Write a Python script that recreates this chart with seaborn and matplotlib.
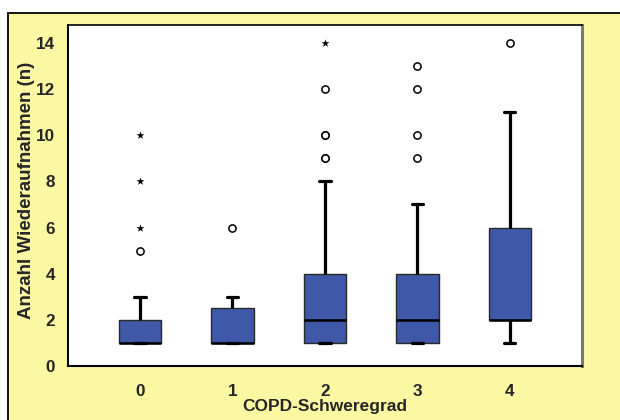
import numpy as np
import pandas as pd
import matplotlib
matplotlib.use("Agg")
import matplotlib.pyplot as plt
import seaborn as sns
from matplotlib.patches import Rectangle

# ---- data (number of readmissions per COPD grade) ----
grades = ["0", "1", "2", "3", "4"]
grad0 = [1, 1, 1, 1, 1, 1, 1, 1, 1, 1, 1, 2, 2, 2, 2, 2, 3, 5, 6, 8, 10]
grad1 = [1, 1, 1, 1, 1, 1, 1, 1, 1, 1, 2, 2, 2, 2, 3, 3, 3, 3, 6]
grad2 = [1, 1, 1, 1, 1, 1, 1, 1, 2, 2, 2, 2, 2, 2, 2, 3, 3, 3, 3, 4, 4, 4,
         8, 9, 9, 10, 10, 12, 14]
grad3 = [1, 1, 1, 1, 1, 1, 2, 2, 2, 2, 2, 3, 3, 3, 4, 4, 7, 9, 10, 12, 13]
grad4 = [1, 2, 2, 2, 2, 2, 2, 2, 2, 2, 2, 3, 4, 5, 6, 6, 7, 8, 9, 11, 14]
y_ticks = [0, 2, 4, 6, 8, 10, 12, 14]
x_title = "COPD-Schweregrad"
y_title = "Anzahl Wiederaufnahmen (n)"

groups = [grad0, grad1, grad2, grad3, grad4]
rows = []
for g, vals in zip(grades, groups):
    for v in vals:
        rows.append((g, v))
df = pd.DataFrame(rows, columns=["grade", "count"])

# classify outliers (SPSS style: >1.5 IQR circle, >3 IQR star)
circ, star = [], []
for g, vals in zip(grades, groups):
    q1, q3 = np.percentile(vals, [25, 75])
    iqr = q3 - q1
    for v in vals:
        if v > q3 + 3 * iqr or v < q1 - 3 * iqr:
            star.append((g, v))
        elif v > q3 + 1.5 * iqr or v < q1 - 1.5 * iqr:
            circ.append((g, v))
circ_df = pd.DataFrame(circ, columns=["grade", "count"])
star_df = pd.DataFrame(star, columns=["grade", "count"])

# ---- style ----
sns.set_style("white")
plt.rcParams["font.family"] = ["Liberation Sans", "DejaVu Sans"]
plt.rcParams["font.weight"] = "bold"

fig = plt.figure(figsize=(6.2, 4.2), dpi=100, facecolor="white")
W, H = 620, 420
panel = Rectangle((8 / W, -0.2), 1.3, (1 - 13 / H) + 0.2, transform=fig.transFigure,
                  facecolor="#FAF8A3", edgecolor="black", linewidth=1.3, zorder=-10)
fig.patches.append(panel)

ax = fig.add_axes([68 / W, 1 - 366 / H, (582 - 68) / W, (366 - 25) / H])
ax.set_zorder(5)
ax.set_facecolor("white")

box_color = "#3F58A8"
sns.boxplot(data=df, x="grade", y="count", order=grades, color=box_color,
            saturation=1, width=0.46, showfliers=False, ax=ax,
            boxprops=dict(edgecolor="#2a2a2a", linewidth=1.0),
            whiskerprops=dict(color="black", linewidth=2.3),
            capprops=dict(color="black", linewidth=2.3),
            medianprops=dict(color="black", linewidth=1.8),
            capwidths=0.12)

sns.stripplot(data=circ_df, x="grade", y="count", order=grades, jitter=False,
              marker="o", size=5.2, color="white", edgecolor="black",
              linewidth=1.1, ax=ax, zorder=5)
sns.stripplot(data=star_df, x="grade", y="count", order=grades, jitter=False,
              marker="*", size=6, color="black", linewidth=0, ax=ax, zorder=5)

ax.set_xlim(-0.778, 4.779)
ax.set_ylim(0, 14.78)
ax.set_yticks(y_ticks)
ax.set_yticklabels([str(t) for t in y_ticks])
ax.set_xticks(range(len(grades)))
ax.set_xticklabels(grades)

for lab in ax.get_xticklabels() + ax.get_yticklabels():
    lab.set_fontsize(12.3)
    lab.set_fontweight("bold")

ax.tick_params(axis="both", direction="out", length=8, width=1.3,
               color="#55553a")
ax.tick_params(axis="x", pad=5)
ax.tick_params(axis="y", pad=1.5)

ax.set_xlabel(x_title, fontsize=12.5, fontweight="bold", labelpad=0)
ax.set_ylabel(y_title, fontsize=13.5, fontweight="bold", labelpad=0.5)
ax.yaxis.set_label_coords(-0.064, 0.516)

for side in ["left", "bottom"]:
    ax.spines[side].set_color("black")
    ax.spines[side].set_linewidth(1.5)
ax.spines["top"].set_color("black")
ax.spines["top"].set_linewidth(1.2)
ax.spines["right"].set_color("#7a7a7a")
ax.spines["right"].set_linewidth(2.2)
for s in ax.spines.values():
    s.set_visible(True)

fig.savefig("out.png", dpi=100, facecolor="white")
